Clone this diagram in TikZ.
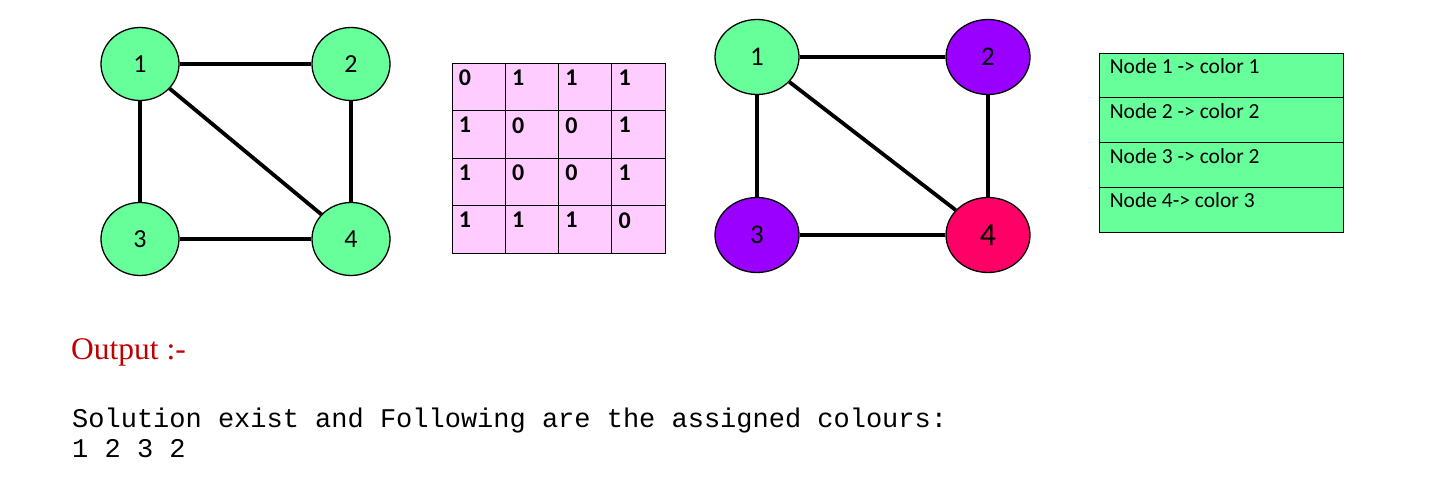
\documentclass[tikz,border=0pt]{standalone}
\usepackage{fontspec}
\setmainfont{Liberation Serif}
\setmonofont{Liberation Mono}
\newfontfamily\calib{Carlito}
\usetikzlibrary{shapes.geometric}
\definecolor{ngreen}{HTML}{66FF99}
\definecolor{npurple}{HTML}{9900FF}
\definecolor{nred}{HTML}{FF0066}
\definecolor{mpink}{HTML}{FFCCFF}
\definecolor{outred}{HTML}{C00000}
\tikzset{
  gnode/.style={ellipse, draw=black, line width=1.3pt, inner sep=0pt,
    minimum width=78pt, minimum height=73pt, font=\calib\fontsize{26}{26}\selectfont},
  hnode/.style={gnode, minimum width=84pt, minimum height=75pt, font=\calib\fontsize{27}{27}\selectfont},
  edge/.style={line width=3.8pt},
  cell/.style={rectangle, draw=black, line width=0.8pt, fill=mpink, inner sep=0pt,
    minimum width=53.25pt, minimum height=47.5pt},
  digit/.style={anchor=north west, inner sep=0pt, font=\calib\bfseries\fontsize{24}{24}\selectfont},
  trow/.style={rectangle, draw=black, line width=0.8pt, fill=ngreen, inner sep=0pt,
    minimum width=244pt, minimum height=44.75pt},
  ttext/.style={anchor=north west, inner sep=0pt, font=\calib\fontsize{21.5}{21.5}\selectfont}
}
\begin{document}
\begin{tikzpicture}[x=1pt,y=-1pt]
\useasboundingbox[fill=white] (0,0) rectangle (1439,481);
% graph 1
\node[gnode, fill=ngreen] (a1) at (140,64) {1};
\node[gnode, fill=ngreen] (a2) at (351,64) {2};
\node[gnode, fill=ngreen] (a3) at (140,239) {3};
\node[gnode, fill=ngreen] (a4) at (351,239) {4};
\draw[edge] (a1) -- (a2);
\draw[edge] (a1) -- (a3);
\draw[edge] (a2) -- (a4);
\draw[edge] (a3) -- (a4);
\draw[edge] (a1) -- (a4);
% adjacency matrix
\foreach \v [count=\i from 0] in {0,1,1,1,1,0,0,1,1,0,0,1,1,1,1,0} {
  \pgfmathtruncatemacro\r{int(\i/4)}
  \pgfmathtruncatemacro\c{mod(\i,4)}
  \node[cell, label={[digit, xshift=7pt, yshift=-7pt]north west:\v}] (m\i)
    at ({452+53.25*\c+26.625},{63+47.5*\r+23.75}) {};
}
% graph 2
\node[hnode, fill=ngreen] (b1) at (757,57) {1};
\node[hnode, fill=npurple] (b2) at (988,57) {2};
\node[hnode, fill=npurple] (b3) at (757,235) {3};
\node[hnode, fill=nred, font=\calib\fontsize{32}{32}\selectfont] (b4) at (988,235) {4};
\draw[edge] (b1) -- (b2);
\draw[edge] (b1) -- (b3);
\draw[edge] (b2) -- (b4);
\draw[edge] (b3) -- (b4);
\draw[edge] (b1) -- (b4);
% colour table
\foreach \t [count=\i from 0] in {Node 1 -> color 1, Node 2 -> color 2, Node 3 -> color 2, Node 4-> color 3} {
  \node[trow, label={[ttext, xshift=11pt, yshift=-6pt]north west:\t}] (t\i)
    at (1221,{53+44.75*\i+22.375}) {};
}
% output text
\node[anchor=base west, inner sep=0pt, text=outred, font=\fontsize{31.5}{31.5}\selectfont] (out) at (71,359) {Output :-};
\node[anchor=base west, inner sep=0pt, font=\ttfamily\fontsize{27}{30}\selectfont] (sol) at (72,427) {Solution exist and Following are the assigned colours:};
\node[anchor=base west, inner sep=0pt, font=\ttfamily\fontsize{27}{30}\selectfont] (res) at (72,457) {1 2 3 2};
\end{tikzpicture}
\end{document}
